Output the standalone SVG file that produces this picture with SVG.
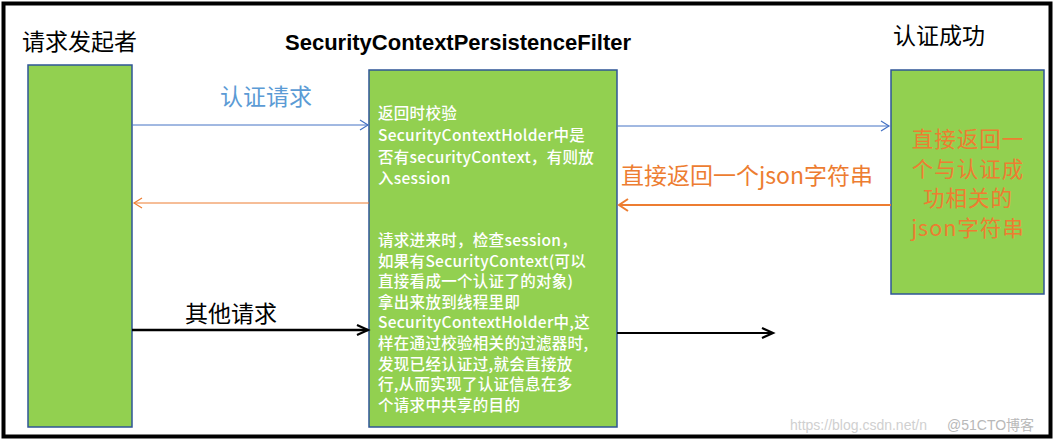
<svg xmlns="http://www.w3.org/2000/svg" width="1055" height="443" viewBox="0 0 1055 443">
<style>
.box{fill:#92D050;stroke:#2F5597;stroke-width:1.5}
.lbl{font-family:"Noto Sans CJK SC","Liberation Sans",sans-serif;font-size:23px}
.rt{font-family:"Noto Sans CJK SC","Liberation Sans",sans-serif;font-size:21.5px;letter-spacing:1px;fill:#ED7D31;text-anchor:middle}
.inner{font-family:"Noto Sans CJK SC","Liberation Sans",sans-serif;font-size:15.5px;fill:#fff;font-weight:500;letter-spacing:0.3px}
.wm{font-family:"Liberation Sans","Noto Sans CJK SC",sans-serif;font-size:14px}
</style>
<defs>
<marker id="ab" markerUnits="userSpaceOnUse" markerWidth="12" markerHeight="14" refX="10" refY="6" orient="auto" overflow="visible">
<path d="M2,1 L10,6 L2,11" fill="none" stroke="#4472C4" stroke-width="1.2"/>
</marker>
<marker id="ao" markerUnits="userSpaceOnUse" markerWidth="12" markerHeight="14" refX="10" refY="6" orient="auto" overflow="visible">
<path d="M2,1 L10,6 L2,11" fill="none" stroke="#ED7D31" stroke-width="1.2"/>
</marker>
<marker id="ao2" markerUnits="userSpaceOnUse" markerWidth="14" markerHeight="14" refX="11" refY="6" orient="auto" overflow="visible">
<path d="M2,0 L11,6 L2,12" fill="none" stroke="#ED7D31" stroke-width="2"/>
</marker>
<marker id="ak" markerUnits="userSpaceOnUse" markerWidth="14" markerHeight="14" refX="12" refY="6" orient="auto" overflow="visible">
<path d="M1,1 L12,6 L1,11" fill="none" stroke="#000" stroke-width="2.2"/>
</marker>
</defs>
<rect x="0" y="0" width="1055" height="443" fill="#fff"/>
<rect x="3.5" y="3.5" width="1047" height="433" fill="none" stroke="#000" stroke-width="4"/>

<g id="requester">
<rect class="box" x="28" y="65" width="104" height="362"/>
<text class="lbl" x="22" y="50" fill="#000">请求发起者</text>
</g>
<g id="filter">
<rect class="box" x="369" y="70" width="248" height="357"/>
<text x="458" y="50" text-anchor="middle" font-family="'Liberation Sans',sans-serif" font-weight="bold" font-size="22" fill="#000">SecurityContextPersistenceFilter</text>
<text class="inner" x="378"><tspan x="378" y="119">返回时校验</tspan><tspan x="378" y="141">SecurityContextHolder中是</tspan><tspan x="378" y="163">否有securityContext，有则放</tspan><tspan x="378" y="184">入session</tspan></text>
<text class="inner" x="378"><tspan x="378" y="246">请求进来时，检查session，</tspan><tspan x="378" y="267">如果有SecurityContext(可以</tspan><tspan x="378" y="287">直接看成一个认证了的对象)</tspan><tspan x="378" y="308">拿出来放到线程里即</tspan><tspan x="378" y="328">SecurityContextHolder中,这</tspan><tspan x="378" y="349">样在通过校验相关的过滤器时,</tspan><tspan x="378" y="370">发现已经认证过,就会直接放</tspan><tspan x="378" y="390">行,从而实现了认证信息在多</tspan><tspan x="378" y="411">个请求中共享的目的</tspan></text>
</g>
<g id="success">
<rect class="box" x="891" y="70" width="153" height="224"/>
<text class="lbl" x="893" y="44" fill="#000" font-size="24">认证成功</text>
<text class="rt" x="968" y="147">直接返回一</text>
<text class="rt" x="968" y="176.5">个与认证成</text>
<text class="rt" x="968" y="206">功相关的</text>
<text class="rt" x="968" y="235.5">json字符串</text>
</g>

<g id="connectors">
<line x1="132" y1="125" x2="368" y2="125" stroke="#4472C4" stroke-width="1" marker-end="url(#ab)"/>
<line x1="617" y1="126" x2="889" y2="126" stroke="#4472C4" stroke-width="1" marker-end="url(#ab)"/>
<line x1="369" y1="203" x2="134" y2="203" stroke="#ED7D31" stroke-width="1" marker-end="url(#ao)"/>
<line x1="891" y1="205" x2="619" y2="205" stroke="#ED7D31" stroke-width="2" marker-end="url(#ao2)"/>
<line x1="132" y1="330" x2="368" y2="330" stroke="#000" stroke-width="2.5" marker-end="url(#ak)"/>
<line x1="617" y1="333" x2="773" y2="333" stroke="#000" stroke-width="2" marker-end="url(#ak)"/>
<text class="lbl" x="266" y="105" text-anchor="middle" fill="#5B9BD5">认证请求</text>
<text class="lbl" x="621" y="184" fill="#ED7D31">直接返回一个json字符串</text>
<text class="lbl" x="185" y="322" fill="#000">其他请求</text>
</g>

<text class="wm" x="790" y="430" fill="#d0d0d0">https://blog.csdn.net/n</text>
<text class="wm" x="947" y="430" fill="#b8b8b8">@51CTO博客</text>
</svg>
